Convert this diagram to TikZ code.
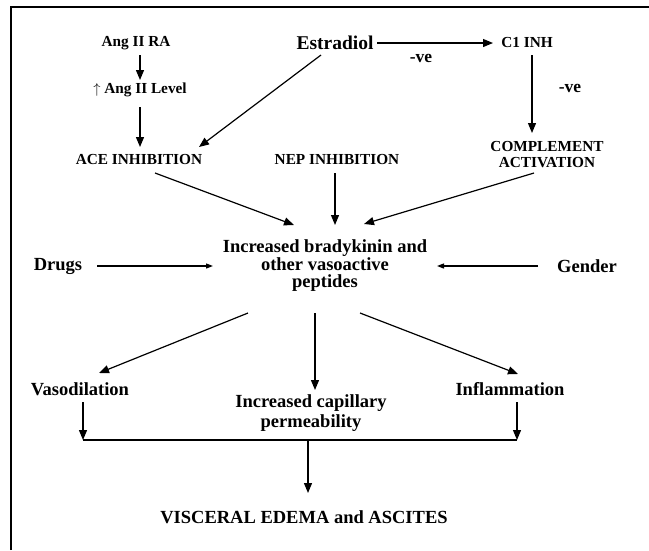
\documentclass[tikz,border=0pt]{standalone}
\usepackage{fontspec}
\setmainfont{Liberation Serif}
\usetikzlibrary{arrows.meta,calc}
\tikzset{
  sm/.style={font=\fontsize{15.3}{16}\selectfont\bfseries, inner sep=0pt, align=center},
  bigt/.style={font=\fontsize{18.5}{17.5}\selectfont\bfseries, inner sep=0pt, align=center},
  estt/.style={font=\fontsize{19.5}{20}\selectfont\bfseries, inner sep=0pt},
  vet/.style={font=\fontsize{17.5}{17.5}\selectfont\bfseries, inner sep=0pt},
  arr/.style={line width=1.2pt, -{Triangle[length=10pt,width=8pt]}},
  arrs/.style={line width=1.2pt, -{Triangle[length=7pt,width=5pt]}},
  plain/.style={line width=1.2pt},
}
\begin{document}
\begin{tikzpicture}[x=1pt,y=-1pt]
\useasboundingbox (0,0) rectangle (649,550);
\draw[line width=1.6pt] (11,550) -- (11,7) -- (649,7);

\node[sm] (angra) at (136,43) {Ang II RA};
\node[sm] (angl) at (140,90) {{\mdseries$\uparrow$} Ang II Level};
\node[sm] (ace) at (139,160) {ACE INHIBITION};
\node[estt] (est) at (335,43) {Estradiol};
\node[sm] (c1) at (527,43) {C1 INH};
\node[vet] (ve1) at (421,58) {-ve};
\node[vet] (ve2) at (570,88) {-ve};
\node[sm] (comp) at (547,155) {COMPLEMENT\\ACTIVATION};
\node[sm] (nep) at (337,160) {NEP INHIBITION};
\node[bigt] (cen) at (325,266) {Increased bradykinin and\\other vasoactive\\peptides};
\node[bigt] (drugs) at (58,266) {Drugs};
\node[bigt] (gender) at (587,266) {Gender};
\node[bigt] (vaso) at (80,389) {Vasodilation};
\node[bigt, font=\fontsize{18.5}{20}\selectfont\bfseries] (cap) at (311,413) {Increased capillary\\permeability};
\node[bigt] (infl) at (510,389) {Inflammation};
\node[bigt] (vis) at (304,517) {VISCERAL EDEMA and ASCITES};

\coordinate (jl) at (83,440);
\coordinate (jr) at (517,440);
\coordinate (jm) at (308,440);

\draw[arr] ($(angra)+(4,12)$) -- ($(angl)+(0,-10)$);
\draw[arr] ($(angl)+(0,17)$) -- ($(ace)+(1,-13)$);
\draw[arr] ($(est)+(-14,12)$) -- ($(ace)+(60,-13)$);
\draw[arr] ($(est)+(42,0)$) -- ($(c1)+(-34,0)$);
\draw[arr] ($(c1)+(5,12)$) -- ($(comp)+(-15,-22)$);
\draw[arr] ($(ace)+(16,13)$) -- ($(cen)+(-31,-41)$);
\draw[arr] ($(nep)+(-2,13)$) -- ($(cen)+(10,-41)$);
\draw[arr] ($(comp)+(-13,18)$) -- ($(cen)+(39,-42)$);
\draw[arrs] ($(drugs)+(39,0)$) -- ($(cen)+(-112,0)$);
\draw[arrs] ($(gender)+(-49,0)$) -- ($(cen)+(112,0)$);
\draw[arr] ($(cen)+(-77,47)$) -- ($(vaso)+(19,-16)$);
\draw[arr] ($(cen)+(-10,47)$) -- ($(cap)+(4,-23)$);
\draw[arr] ($(cen)+(35,47)$) -- ($(infl)+(8,-15)$);
\draw[arr] ($(vaso)+(3,13)$) -- (jl);
\draw[arr] ($(infl)+(7,13)$) -- (jr);
\draw[plain] (jl) -- (jr);
\draw[arr] (jm) -- ($(vis)+(4,-24)$);
\end{tikzpicture}
\end{document}
